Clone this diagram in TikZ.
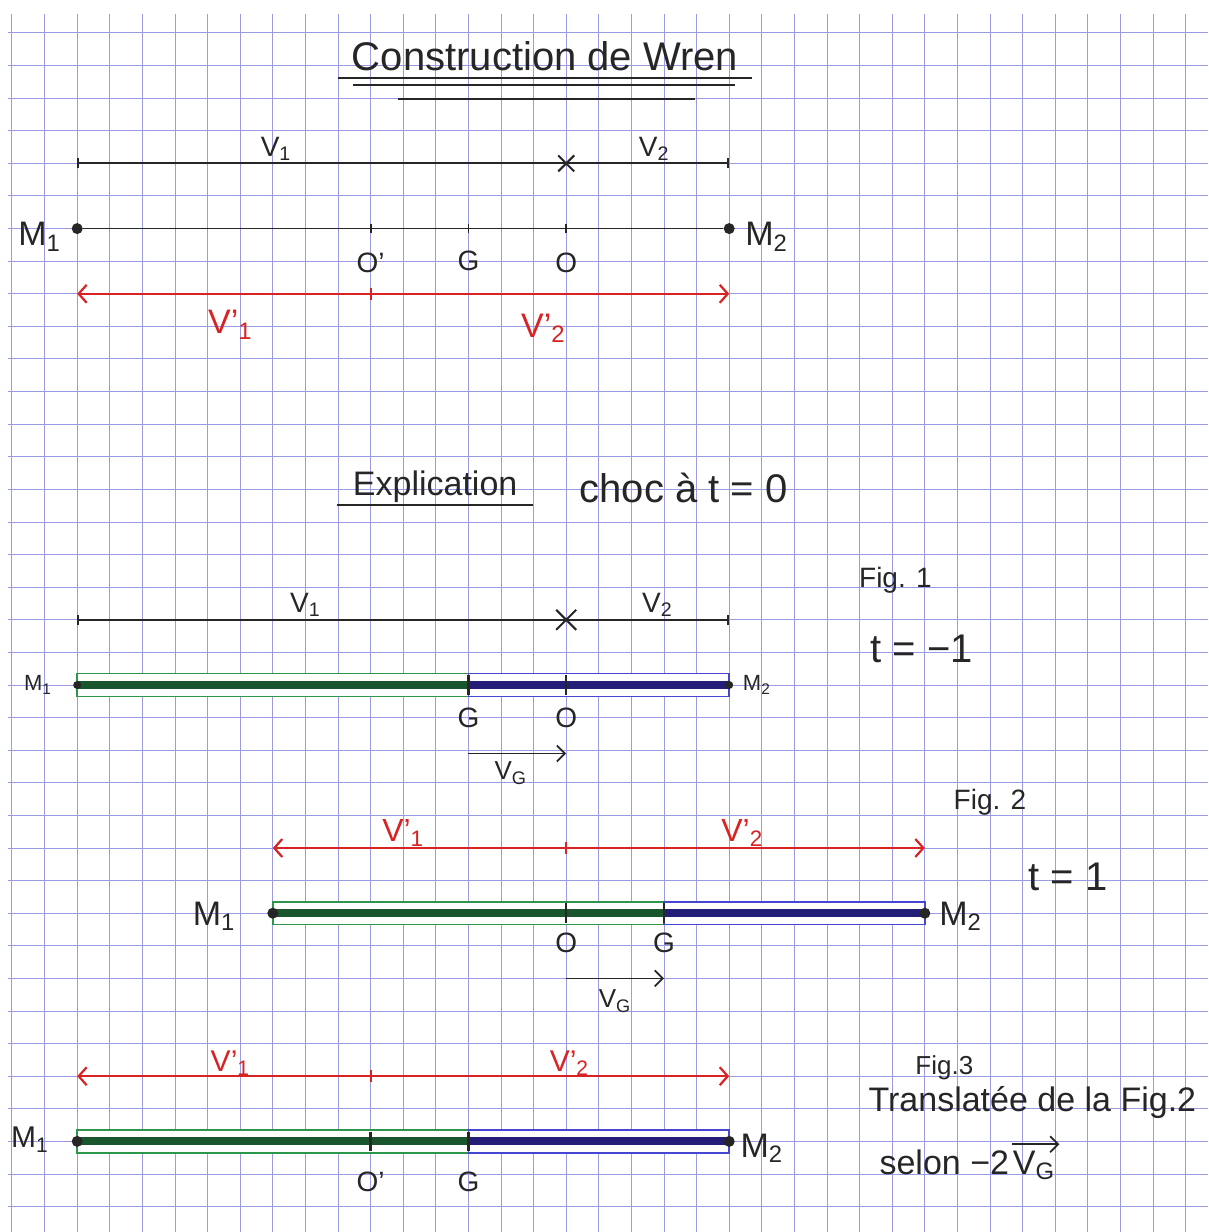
\documentclass[tikz,border=0pt]{standalone}
\usepackage{fontspec}
\setmainfont{Liberation Sans}
\usetikzlibrary{arrows.meta,shapes.misc}
\definecolor{gridc}{RGB}{155,155,228}
\definecolor{penred}{RGB}{215,35,35}
\definecolor{gout}{RGB}{45,150,75}
\definecolor{gcore}{RGB}{25,85,45}
\definecolor{bout}{RGB}{70,70,210}
\definecolor{bcore}{RGB}{35,30,120}
\newcommand\fs[1]{\fontsize{#1}{#1}\selectfont}
\newcommand\Vsub[1]{V\textsubscript{#1}}
\newcommand\Vpr[1]{V'\textsubscript{#1}}
\begin{document}
\begin{tikzpicture}[x=16.3pt,y=-16.3pt,
  gridline/.style={draw=gridc, line width=0.5pt},
  pen/.style={line width=0.9pt, draw=black!85},
  redpen/.style={line width=1.1pt, draw=penred},
  lbl/.style={inner sep=0pt, text=black!85},
  rlbl/.style={inner sep=0pt, text=penred},
  mdot/.style={circle, fill=black!85, inner sep=0pt, minimum size=5.5pt},
  sdot/.style={circle, fill=black!85, inner sep=0pt, minimum size=4pt},
  xmark/.style={cross out, draw=black!85, line width=1pt, minimum size=7pt, inner sep=0pt},
  twotip/.style={{Straight Barb[length=4pt,width=9pt]}-{Straight Barb[length=4pt,width=9pt]}},
  onetip/.style={-{Straight Barb[length=4pt,width=8pt]}},
  endbars/.style={{Bar[width=5pt]}-{Bar[width=5pt]}},
  greenbox/.style={draw=gout, line width=0.8pt, fill=white},
  bluebox/.style={draw=bout, line width=0.8pt, fill=white},
  greencore/.style={draw=gcore, line width=4pt},
  bluecore/.style={draw=bcore, line width=4pt},
  ulin/.style={line width=1.1pt, draw=black!85}
]
\useasboundingbox (-0.368,-1.012) rectangle (36.687,36.779);
\fill[white] (-0.368,-1.012) rectangle (36.687,36.779);
% grid paper
\foreach \i in {0,...,36} \draw[gridline] (\i,-0.583) -- (\i,36.779);
\foreach \j in {0,...,36} \draw[gridline] (-0.12,\j) -- (36.687,\j);

% ---------- Title ----------
\node[lbl, font=\fs{20}] (title) at (16.35,0.72) {Construction de Wren};
\coordinate (u1a) at (10.0,1.38); \coordinate (u1b) at (22.7,1.38);
\coordinate (u2a) at (10.46,1.6); \coordinate (u2b) at (22.18,1.6);
\coordinate (u3a) at (11.84,2.02); \coordinate (u3b) at (20.95,2.02);
\draw[ulin] (u1a) -- (u1b);
\draw[ulin] (u2a) -- (u2b);
\draw[ulin] (u3a) -- (u3b);

% ---------- Section 1 ----------
\coordinate (A1) at (2,4); \coordinate (B1) at (22,4);
\draw[pen, endbars] (A1) -- (B1);
\node[xmark] (X1) at (17,4) {};
\node[lbl, font=\fs{14}] (lv1) at (8.1,3.55) {\Vsub{1}};
\node[lbl, font=\fs{14}] (lv2) at (19.7,3.55) {\Vsub{2}};

\node[mdot] (M1a) at (2,6) {};
\node[mdot] (M2a) at (22,6) {};
\coordinate (Opa) at (11,6); \coordinate (Ga) at (14,6); \coordinate (Oa) at (17,6);
\draw[pen] (M1a) -- (M2a);
\foreach \p in {Opa,Ga,Oa} \draw[pen] (\p) ++(0,-0.15) -- ++(0,0.3);
\node[lbl, font=\fs{17}] (lm1a) at (0.85,6.25) {M\textsubscript{1}};
\node[lbl, font=\fs{17}] (lm2a) at (23.15,6.25) {M\textsubscript{2}};
\node[lbl, font=\fs{14}] (lopa) at (11,7.05) {O'};
\node[lbl, font=\fs{14}] (lga) at (14,7.0) {G};
\node[lbl, font=\fs{14}] (loa) at (17,7.05) {O};

\coordinate (R1a) at (2,8); \coordinate (R1b) at (22,8); \coordinate (R1t) at (11,8);
\draw[redpen, twotip] (R1a) -- (R1b);
\draw[redpen] (R1t) ++(0,-0.18) -- ++(0,0.36);
\node[rlbl, font=\fs{17}] (lr1a) at (6.7,8.95) {\Vpr{1}};
\node[rlbl, font=\fs{17}] (lr2a) at (16.3,9.05) {\Vpr{2}};

% ---------- Explication ----------
\node[lbl, font=\fs{17}] (expl) at (12.98,13.92) {Explication};
\coordinate (ea) at (9.97,14.48); \coordinate (eb) at (15.98,14.48);
\draw[ulin] (ea) -- (eb);
\node[lbl, font=\fs{20}] (choc) at (20.6,13.95) {choc à t = 0};

% ---------- Fig. 1 ----------
\coordinate (A2) at (2,18); \coordinate (B2) at (22,18);
\draw[pen, endbars] (A2) -- (B2);
\node[xmark, minimum size=9pt] (X2) at (17,18) {};
\node[lbl, font=\fs{14}] (lv1b) at (9.0,17.55) {\Vsub{1}};
\node[lbl, font=\fs{14}] (lv2b) at (19.8,17.55) {\Vsub{2}};

\coordinate (M1b) at (2,20); \coordinate (Gb) at (14,20);
\coordinate (Ob) at (17,20); \coordinate (M2b) at (22,20);
\draw[greenbox] ([yshift=5.7pt]M1b) rectangle ([yshift=-5.7pt]Gb);
\draw[bluebox] ([yshift=5.7pt]Gb) rectangle ([yshift=-5.7pt]M2b);
\draw[greencore] (M1b) -- (Gb);
\draw[bluecore] (Gb) -- (M2b);
\foreach \p in {Gb,Ob} \draw[pen, line width=1.2pt] (\p) ++(0,-0.3) -- ++(0,0.6);
\node[sdot] (dM1b) at (M1b) {};
\node[sdot] (dM2b) at (M2b) {};
\node[lbl, font=\fs{11}] (lm1b) at (0.8,20.0) {M\textsubscript{1}};
\node[lbl, font=\fs{11}] (lm2b) at (22.85,20.0) {M\textsubscript{2}};
\node[lbl, font=\fs{14}] (lgb) at (14,21.0) {G};
\node[lbl, font=\fs{14}] (lob) at (17,21.0) {O};
\coordinate (vGa1) at (14,22.1); \coordinate (vGa2) at (17,22.1);
\draw[pen, onetip] (vGa1) -- (vGa2);
\node[lbl, font=\fs{13}] (lvga) at (15.3,22.7) {\Vsub{G}};
\node[lbl, font=\fs{14}] (fig1) at (27.1,16.8) {Fig. 1};
\node[lbl, font=\fs{20}] (t1) at (27.9,18.9) {t = −1};

% ---------- Fig. 2 ----------
\coordinate (R2a) at (8,25); \coordinate (R2b) at (28,25); \coordinate (R2t) at (17,25);
\draw[redpen, twotip] (R2a) -- (R2b);
\draw[redpen] (R2t) ++(0,-0.18) -- ++(0,0.36);
\node[rlbl, font=\fs{16}] (lr1b) at (12.0,24.55) {\Vpr{1}};
\node[rlbl, font=\fs{16}] (lr2b) at (22.4,24.55) {\Vpr{2}};

\coordinate (M1c) at (8,27); \coordinate (Oc) at (17,27);
\coordinate (Gc) at (20,27); \coordinate (M2c) at (28,27);
\draw[greenbox] ([yshift=5.7pt]M1c) rectangle ([yshift=-5.7pt]Gc);
\draw[bluebox] ([yshift=5.7pt]Gc) rectangle ([yshift=-5.7pt]M2c);
\draw[greencore] (M1c) -- (Gc);
\draw[bluecore] (Gc) -- (M2c);
\foreach \p in {Oc,Gc} \draw[pen, line width=1.2pt] (\p) ++(0,-0.3) -- ++(0,0.6);
\node[mdot] (dM1c) at (M1c) {};
\node[mdot] (dM2c) at (M2c) {};
\node[lbl, font=\fs{17}] (lm1c) at (6.2,27.1) {M\textsubscript{1}};
\node[lbl, font=\fs{17}] (lm2c) at (29.1,27.1) {M\textsubscript{2}};
\node[lbl, font=\fs{14}] (loc) at (17,27.9) {O};
\node[lbl, font=\fs{14}] (lgc) at (20,27.9) {G};
\coordinate (vGb1) at (17,29); \coordinate (vGb2) at (20,29);
\draw[pen, onetip] (vGb1) -- (vGb2);
\node[lbl, font=\fs{13}] (lvgb) at (18.5,29.7) {\Vsub{G}};
\node[lbl, font=\fs{14}] (fig2) at (30.0,23.6) {Fig. 2};
\node[lbl, font=\fs{20}] (t2) at (32.4,25.9) {t = 1};

% ---------- Fig. 3 ----------
\coordinate (R3a) at (2,32); \coordinate (R3b) at (22,32); \coordinate (R3t) at (11,32);
\draw[redpen, twotip] (R3a) -- (R3b);
\draw[redpen] (R3t) ++(0,-0.18) -- ++(0,0.36);
\node[rlbl, font=\fs{15}] (lr1c) at (6.7,31.6) {\Vpr{1}};
\node[rlbl, font=\fs{15}] (lr2c) at (17.1,31.6) {\Vpr{2}};

\coordinate (M1d) at (2,34); \coordinate (Opd) at (11,34);
\coordinate (Gd) at (14,34); \coordinate (M2d) at (22,34);
\draw[greenbox] ([yshift=5.7pt]M1d) rectangle ([yshift=-5.7pt]Gd);
\draw[bluebox] ([yshift=5.7pt]Gd) rectangle ([yshift=-5.7pt]M2d);
\draw[greencore] (M1d) -- (Gd);
\draw[bluecore] (Gd) -- (M2d);
\foreach \p in {Opd,Gd} \draw[pen, line width=1.2pt] (\p) ++(0,-0.3) -- ++(0,0.6);
\node[mdot] (dM1d) at (M1d) {};
\node[mdot] (dM2d) at (M2d) {};
\node[lbl, font=\fs{15}] (lm1d) at (0.55,33.95) {M\textsubscript{1}};
\node[lbl, font=\fs{17}] (lm2d) at (23.0,34.2) {M\textsubscript{2}};
\node[lbl, font=\fs{14}] (lopd) at (11,35.25) {O'};
\node[lbl, font=\fs{14}] (lgd) at (14,35.25) {G};
\node[lbl, font=\fs{13}] (fig3) at (28.6,31.75) {Fig.3};
\node[lbl, font=\fs{17}] (transl) at (31.3,32.8) {Translatée de la Fig.2};
\node[lbl, font=\fs{17}, anchor=base west] (selon) at (26.6,35.0) {selon −2};
\node[lbl, font=\fs{17}, anchor=base west] (vg3) at ([xshift=1.5pt]selon.base east) {\Vsub{G}};
\coordinate (va) at ([yshift=3pt]vg3.north west);
\coordinate (vb) at ([yshift=3pt, xshift=2pt]vg3.north east);
\draw[pen, onetip] (va) -- (vb);
\end{tikzpicture}
\end{document}
